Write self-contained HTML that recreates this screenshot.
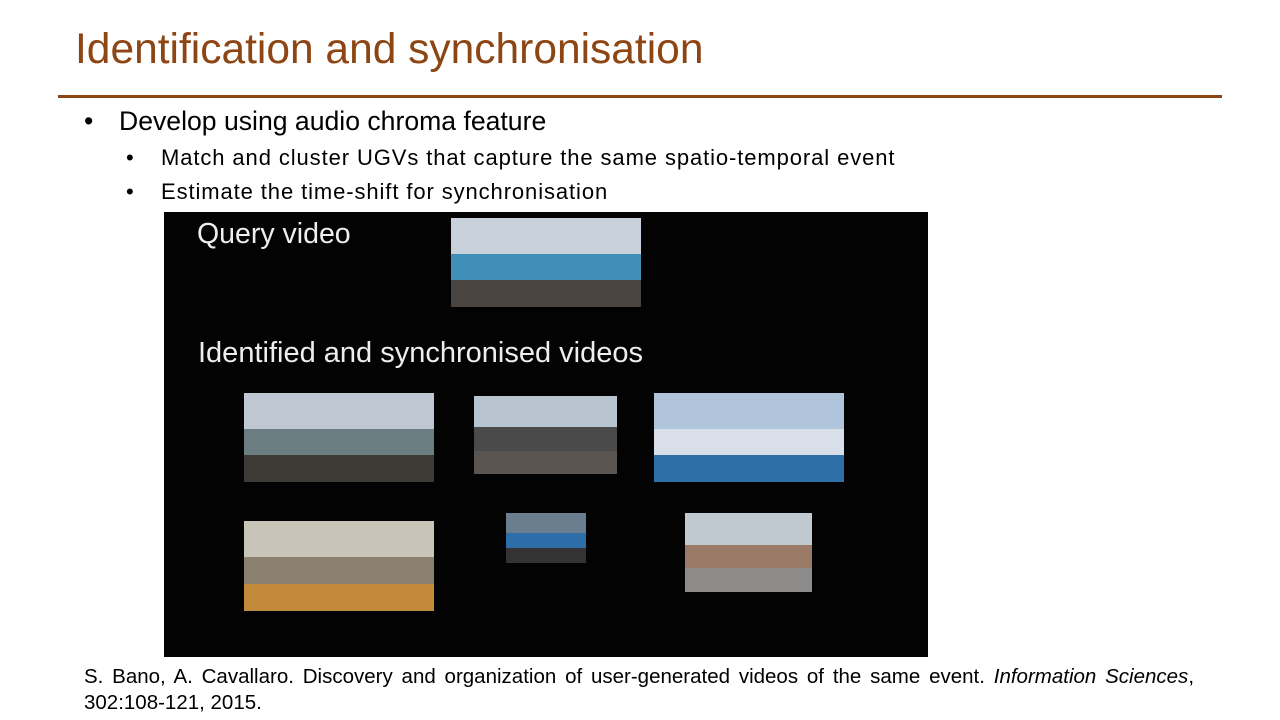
<!DOCTYPE html>
<html><head><meta charset="utf-8">
<style>
body{margin:0;width:1280px;height:720px;background:#fff;font-family:"Liberation Sans",Arial,sans-serif;position:relative;overflow:hidden}
.abs{position:absolute}
.thumb{position:absolute;overflow:hidden}
.sky{position:absolute;left:0;right:0;top:0;height:40%}
.mid{position:absolute;left:0;right:0;top:40%;height:30%}
.gnd{position:absolute;left:0;right:0;bottom:0;height:30%}
</style></head><body>
<div class="abs" style="left:75px;top:26px;font-size:42.5px;color:#8c4513;white-space:nowrap">Identification and synchronisation</div>
<div class="abs" style="left:58px;top:95px;width:1164px;height:3px;background:#8c4513"></div>
<div class="abs" style="left:84px;top:106px;font-size:26.6px;color:#000">•<span style="position:absolute;left:35px;white-space:nowrap">Develop using audio chroma feature</span></div>
<div class="abs" style="left:126px;top:145px;font-size:22px;color:#000">•<span style="position:absolute;left:35px;white-space:nowrap;letter-spacing:0.9px">Match and cluster UGVs that capture the same spatio-temporal event</span></div>
<div class="abs" style="left:126px;top:179px;font-size:22px;color:#000">•<span style="position:absolute;left:35px;white-space:nowrap;letter-spacing:0.9px">Estimate the time-shift for synchronisation</span></div>

<div class="abs" style="left:164px;top:212px;width:764px;height:445px;background:#030303">
  <div class="abs" style="left:33px;top:6px;font-size:28.5px;color:#eee;white-space:nowrap">Query video</div>
  <div class="abs" style="left:34px;top:125px;font-size:29px;color:#eee;white-space:nowrap">Identified and synchronised videos</div>
  <div class="thumb" style="left:287px;top:6px;width:190px;height:89px"><div class="sky" style="background:#c9d2dc"></div><div class="mid" style="background:#3f8fb8"></div><div class="gnd" style="background:#4a4440"></div></div>
  <div class="thumb" style="left:80px;top:181px;width:190px;height:89px"><div class="sky" style="background:#bfc8d2"></div><div class="mid" style="background:#6b7d80"></div><div class="gnd" style="background:#3e3a36"></div></div>
  <div class="thumb" style="left:310px;top:184px;width:143px;height:78px"><div class="sky" style="background:#b8c4d0"></div><div class="mid" style="background:#4a4a4a"></div><div class="gnd" style="background:#5a5550"></div></div>
  <div class="thumb" style="left:490px;top:181px;width:190px;height:89px"><div class="sky" style="background:#b0c4dc"></div><div class="mid" style="background:#d8dfe8"></div><div class="gnd" style="background:#2f6fa8"></div></div>
  <div class="thumb" style="left:80px;top:309px;width:190px;height:90px"><div class="sky" style="background:#c8c4b8"></div><div class="mid" style="background:#8a8070"></div><div class="gnd" style="background:#c28a3a"></div></div>
  <div class="thumb" style="left:342px;top:301px;width:80px;height:50px"><div class="sky" style="background:#6a7e90"></div><div class="mid" style="background:#2e6ea8"></div><div class="gnd" style="background:#333"></div></div>
  <div class="thumb" style="left:521px;top:301px;width:127px;height:79px"><div class="sky" style="background:#c0c8d0"></div><div class="mid" style="background:#9a7a66"></div><div class="gnd" style="background:#8e8c8a"></div></div>
</div>

<div class="abs" style="left:84px;top:664px;width:1110px;font-size:20.5px;line-height:26px;color:#000;text-align:justify">S. Bano, A. Cavallaro. Discovery and organization of user-generated videos of the same event. <i>Information Sciences</i>, 302:108-121, 2015.</div>
</body></html>
